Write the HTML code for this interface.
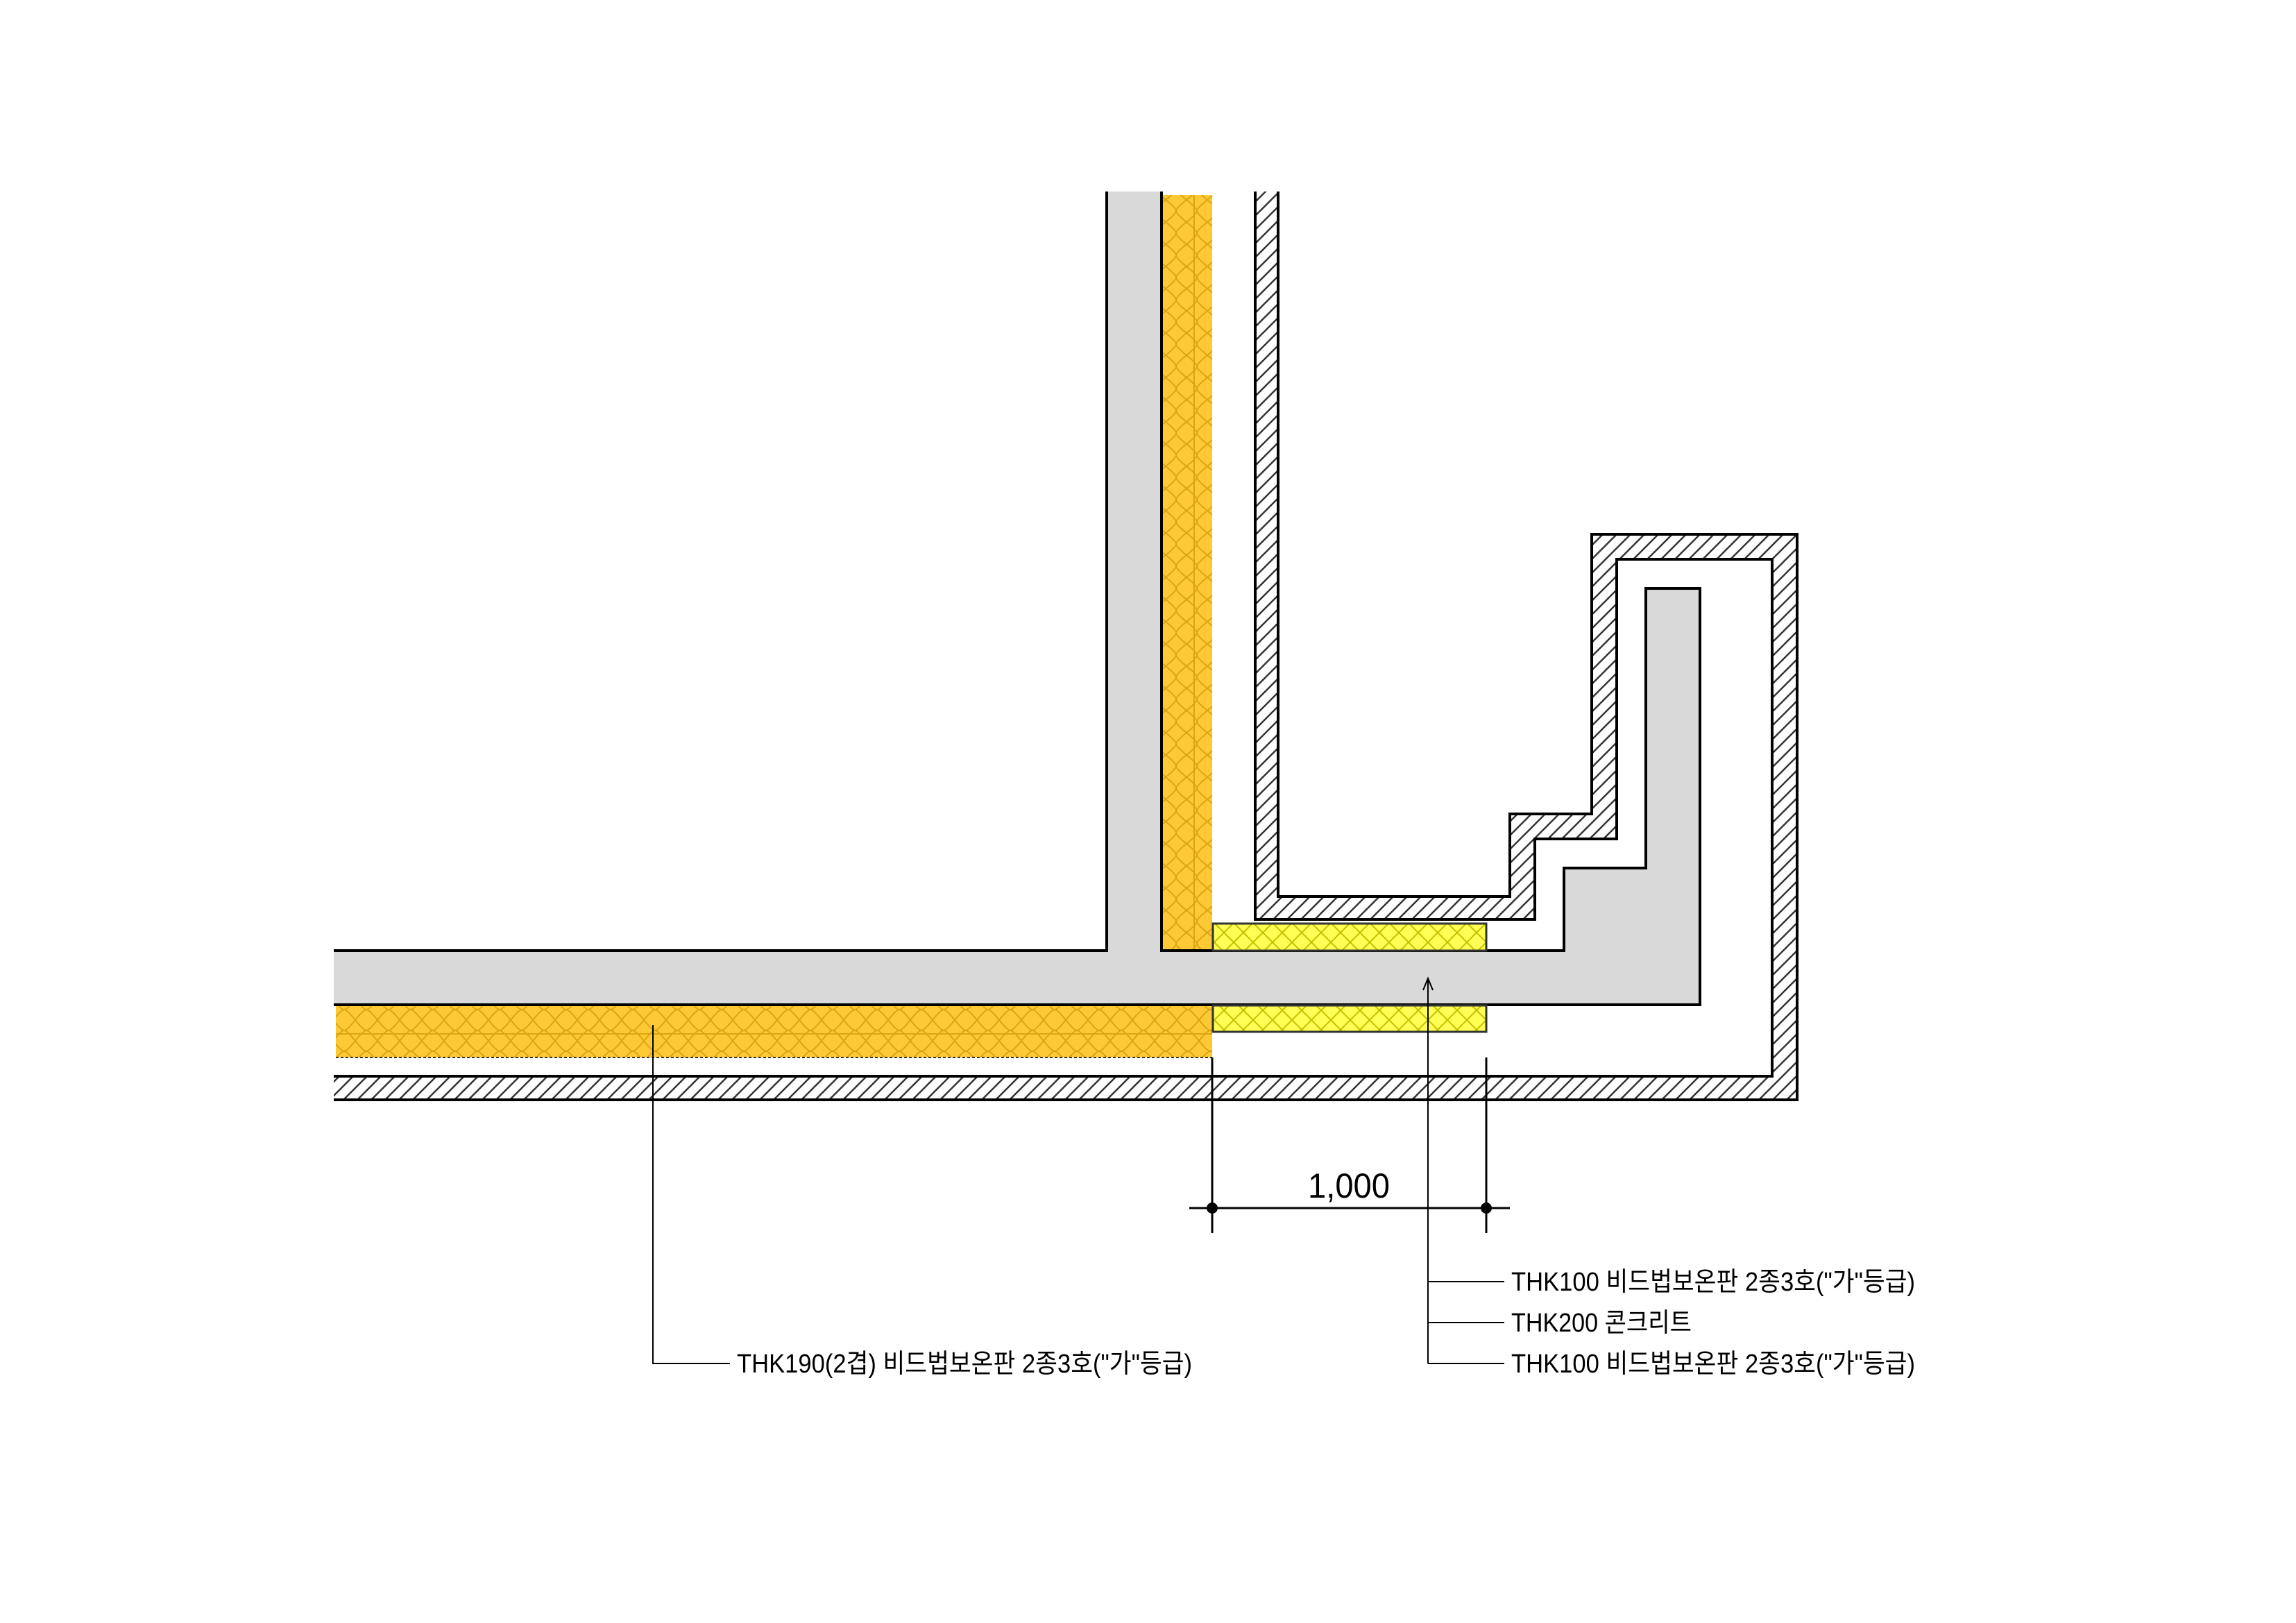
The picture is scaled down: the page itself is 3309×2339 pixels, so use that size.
<!DOCTYPE html>
<html><head><meta charset="utf-8"><style>html,body{margin:0;padding:0;background:#fff}svg{display:block}</style></head>
<body>
<svg width="3309" height="2339" viewBox="0 0 3309 2339" xmlns="http://www.w3.org/2000/svg">
<defs>
<pattern id="hatch" patternUnits="userSpaceOnUse" width="20" height="20">
<path d="M-5,25 L25,-5 M-5,5 L5,-5 M15,25 L25,15" stroke="#333" stroke-width="2.5"/>
</pattern>
<pattern id="orng" patternUnits="userSpaceOnUse" width="30" height="32">
<rect width="30" height="32" fill="#fdc935"/>
<path d="M0,0 Q15,12 15,16 Q15,20 30,32 M30,0 Q15,12 15,16 Q15,20 0,32" fill="none" stroke="#dca512" stroke-width="2"/>
</pattern>
<pattern id="orngH" patternUnits="userSpaceOnUse" width="32" height="30">
<rect width="32" height="30" fill="#fdc935"/>
<path d="M0,0 Q12,15 16,15 Q20,15 32,0 M0,30 Q12,15 16,15 Q20,15 32,30" fill="none" stroke="#dca512" stroke-width="2"/>
</pattern>
<pattern id="yel" patternUnits="userSpaceOnUse" width="28" height="28">
<rect width="28" height="28" fill="#ffff55"/>
<path d="M0,0 L28,28 M28,0 L0,28" stroke="#c4c000" stroke-width="2"/>
</pattern>
</defs>

<path d="M1595,276 L1674,276 L1674,1370 L2254,1370 L2254,1251 L2372,1251 L2372,848 L2450,848 L2450,1448 L481,1448 L481,1370 L1595,1370 Z" fill="#d9d9d9"/>
<path d="M1595,276 L1595,1370 L481,1370 M481,1448 L2450,1448 L2450,848 L2372,848 L2372,1251 L2254,1251 L2254,1370 L1674,1370 L1674,276" fill="none" stroke="#000" stroke-width="4"/>

<rect x="1676" y="281" width="71" height="1087" fill="url(#orng)"/>
<line x1="1721" y1="281" x2="1721" y2="1368" stroke="#dca512" stroke-width="2"/>
<rect x="484" y="1450" width="1263" height="74" fill="url(#orngH)"/>
<line x1="484" y1="1490" x2="1747" y2="1490" stroke="#dca512" stroke-width="2"/>
<line x1="484" y1="1524" x2="1747" y2="1524" stroke="#333" stroke-width="2" stroke-dasharray="4,3"/>

<rect x="1748" y="1331" width="394" height="39" fill="url(#yel)" stroke="#333" stroke-width="3"/>
<rect x="1748" y="1449" width="394" height="38" fill="url(#yel)" stroke="#333" stroke-width="3"/>

<path d="M1809,276 L1809,1325 L2212,1325 L2212,1209 L2330,1209 L2330,806 L2554,806 L2554,1551 L481,1551 L481,1585 L2590,1585 L2590,770 L2294,770 L2294,1173 L2176,1173 L2176,1292 L1842,1292 L1842,276 Z" fill="url(#hatch)"/>
<path d="M1809,276 L1809,1325 L2212,1325 L2212,1209 L2330,1209 L2330,806 L2554,806 L2554,1551 L481,1551 M481,1585 L2590,1585 L2590,770 L2294,770 L2294,1173 L2176,1173 L2176,1292 L1842,1292 L1842,276" fill="none" stroke="#000" stroke-width="4"/>

<g stroke="#000" stroke-width="3">
<line x1="1747" y1="1524" x2="1747" y2="1777"/>
<line x1="2142" y1="1524" x2="2142" y2="1777"/>
<line x1="1714" y1="1741" x2="2176" y2="1741"/>
</g>
<circle cx="1747" cy="1741" r="8"/>
<circle cx="2142" cy="1741" r="8"/>
<text x="1944" y="1726" font-family="Liberation Sans, sans-serif" font-size="50" text-anchor="middle" textLength="118" lengthAdjust="spacingAndGlyphs">1,000</text>

<g stroke="#000" stroke-width="2" fill="none">
<polyline points="941,1477 941,1965 1052,1965"/>
<line x1="2058" y1="1410" x2="2058" y2="1965"/>
<polyline points="2051,1427 2058,1410 2065,1427"/>
<line x1="2058" y1="1847" x2="2168" y2="1847"/>
<line x1="2058" y1="1906" x2="2168" y2="1906"/>
<line x1="2058" y1="1965" x2="2168" y2="1965"/>
</g>
<g font-family="Liberation Sans, Noto Sans CJK KR, sans-serif" font-size="38" fill="#000">
<text x="1062" y="1978" textLength="656" lengthAdjust="spacingAndGlyphs">THK190(2겹) 비드법보온판 2종3호("가"등급)</text>
<text x="2178" y="1860" textLength="582" lengthAdjust="spacingAndGlyphs">THK100 비드법보온판 2종3호("가"등급)</text>
<text x="2178" y="1919" textLength="260" lengthAdjust="spacingAndGlyphs">THK200 콘크리트</text>
<text x="2178" y="1978" textLength="582" lengthAdjust="spacingAndGlyphs">THK100 비드법보온판 2종3호("가"등급)</text>
</g>
</svg>
</body></html>
